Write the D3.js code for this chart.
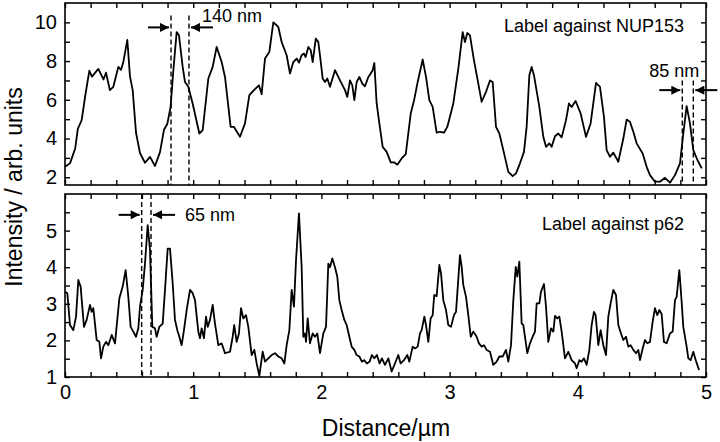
<!DOCTYPE html>
<html>
<head>
<meta charset="utf-8">
<script src="https://cdn.jsdelivr.net/npm/d3@7"></script>
<style>
  body { margin: 0; background: #fff; }
  svg { display: block; font-family: "Liberation Sans", Arial, sans-serif; }
  .tick line { stroke: #000; stroke-width: 1.4; }
  .tick text { fill: #000; font-size: 20px; }
</style>
</head>
<body>
<script>
// line profiles, distance in µm vs intensity (arb. units)
var nup153Dist = [0,0.04,0.08,0.10,0.13,0.16,0.19,0.21,0.26,0.30,0.32,0.35,0.377,0.416,0.437,0.455,0.486,0.507,0.528,0.554,0.585,0.624,0.663,0.702,0.741,0.772,0.798,0.824,0.845,0.871,0.889,0.918,0.936,0.962,0.996,1.048,1.074,1.118,1.152,1.183,1.222,1.248,1.292,1.318,1.365,1.404,1.438,1.474,1.513,1.534,1.56,1.594,1.625,1.651,1.664,1.69,1.729,1.755,1.781,1.807,1.825,1.846,1.864,1.877,1.898,1.917,1.932,1.956,1.976,1.989,2.01,2.028,2.046,2.067,2.106,2.145,2.184,2.202,2.223,2.241,2.257,2.275,2.296,2.319,2.34,2.366,2.385,2.4,2.413,2.431,2.452,2.478,2.509,2.541,2.566,2.592,2.626,2.658,2.697,2.723,2.751,2.79,2.816,2.842,2.868,2.899,2.925,2.956,2.982,3.029,3.068,3.102,3.12,3.138,3.159,3.19,3.224,3.25,3.284,3.315,3.336,3.362,3.388,3.419,3.458,3.492,3.518,3.549,3.58,3.601,3.622,3.64,3.658,3.7,3.731,3.752,3.778,3.796,3.822,3.848,3.874,3.908,3.931,3.952,3.983,4.022,4.064,4.1,4.142,4.173,4.204,4.225,4.251,4.277,4.316,4.355,4.381,4.407,4.433,4.459,4.506,4.537,4.563,4.602,4.641,4.68,4.719,4.758,4.797,4.823,4.849,4.875,4.901,4.933,4.967];
var nup153Val = [2.54,2.73,3.5,4.5,4.95,6.3,7.5,7.2,7.6,7.05,7.4,6.5,6.67,7.7,7.55,7.95,9.1,7.2,6.5,4.3,3.25,2.75,3.05,2.58,3.3,4.45,4.75,5.65,7.5,9.5,9.33,7.7,6.92,6.67,5.8,4.26,4.43,7.1,7.7,8.73,7.95,7.18,4.6,4.6,4.09,4.78,6.24,6.5,6.75,6.29,8.13,8.47,10.0,9.85,9.76,8.98,8.3,7.36,7.95,8.13,7.92,8.3,8.39,8.21,8.73,8.56,7.95,9.16,8.98,8.3,7.1,6.92,7.1,6.67,7.53,7.0,6.5,6.15,7.0,6.75,5.98,6.92,7.18,6.84,6.7,7.18,7.36,7.53,7.9,5.81,4.78,3.57,3.31,2.77,2.77,2.65,2.97,3.2,5.3,5.98,6.92,8.08,7.18,5.98,5.63,4.3,4.35,4.3,4.6,5.81,7.61,9.5,8.98,9.45,9.33,8.04,6.84,5.9,6.41,7.0,6.92,4.6,4.26,3.4,2.28,2.06,2.2,2.72,3.31,4.6,7.27,7.7,7.27,5.63,4.09,3.57,3.75,3.57,4.12,4.26,4.06,4.95,5.81,5.63,5.94,5.3,4.09,4.78,6.87,6.67,5.12,3.4,3.06,3.27,2.8,4.0,4.98,4.86,4.35,3.75,3.23,2.54,2.11,1.77,1.77,1.97,1.72,2.11,2.72,4.26,5.67,4.78,3.4,2.89,2.46];

var p62Dist = [0,0.018,0.039,0.065,0.086,0.104,0.122,0.148,0.169,0.195,0.208,0.221,0.247,0.268,0.281,0.299,0.32,0.338,0.364,0.39,0.424,0.45,0.473,0.494,0.512,0.533,0.554,0.572,0.585,0.606,0.624,0.645,0.663,0.681,0.702,0.715,0.736,0.762,0.78,0.801,0.819,0.84,0.858,0.876,0.892,0.91,0.928,0.949,0.975,0.996,1.014,1.04,1.053,1.066,1.084,1.1,1.113,1.131,1.152,1.17,1.196,1.222,1.248,1.287,1.308,1.32,1.339,1.357,1.373,1.391,1.412,1.43,1.456,1.477,1.495,1.516,1.542,1.56,1.586,1.612,1.638,1.664,1.69,1.711,1.729,1.75,1.768,1.786,1.802,1.825,1.846,1.859,1.872,1.88,1.893,1.911,1.932,1.95,1.968,1.989,2.015,2.036,2.054,2.067,2.085,2.106,2.124,2.14,2.158,2.179,2.197,2.218,2.236,2.257,2.275,2.296,2.316,2.334,2.355,2.376,2.394,2.412,2.433,2.454,2.472,2.496,2.522,2.548,2.574,2.6,2.618,2.644,2.67,2.686,2.712,2.73,2.751,2.769,2.782,2.803,2.816,2.834,2.852,2.868,2.88,2.899,2.92,2.933,2.951,2.972,2.99,3.011,3.034,3.05,3.081,3.094,3.107,3.128,3.146,3.165,3.185,3.211,3.229,3.25,3.268,3.289,3.315,3.341,3.367,3.388,3.414,3.44,3.458,3.479,3.497,3.516,3.528,3.544,3.562,3.575,3.606,3.627,3.648,3.666,3.679,3.7,3.713,3.736,3.752,3.77,3.791,3.809,3.822,3.84,3.856,3.874,3.9,3.926,3.952,3.978,3.991,4.012,4.03,4.048,4.069,4.09,4.108,4.126,4.139,4.16,4.178,4.199,4.22,4.238,4.256,4.277,4.298,4.316,4.337,4.355,4.376,4.394,4.412,4.433,4.454,4.472,4.485,4.506,4.524,4.542,4.563,4.584,4.602,4.62,4.636,4.654,4.672,4.693,4.719,4.74,4.758,4.771,4.792,4.81,4.823,4.849,4.862,4.88,4.901,4.92,4.946];
var p62Val = [3.33,3.29,2.42,2.28,2.65,3.65,3.47,2.37,2.56,2.97,2.78,2.88,2.01,1.96,1.51,1.83,1.96,1.87,2.15,1.92,3.15,3.47,3.92,3.19,2.37,2.24,2.1,2.33,2.92,3.38,4.1,5.15,4.47,2.37,2.33,2.1,2.37,2.46,3.38,4.51,4.51,3.56,2.56,2.28,2.1,1.87,2.28,2.83,3.38,3.29,3.1,2.24,2.06,2.33,2.06,2.65,2.37,2.56,2.97,2.46,1.87,1.92,1.65,1.69,2.1,2.42,1.96,2.19,2.88,2.6,2.69,2.37,1.6,1.74,1.37,1.03,1.69,1.42,1.51,1.6,1.65,1.56,1.51,1.37,1.87,2.28,3.38,2.92,4.19,5.47,4.0,2.1,2.19,1.96,2.6,1.92,2.19,2.1,2.19,1.65,2.19,2.37,4.1,4.0,4.24,4.0,3.74,3.1,2.83,2.56,2.42,2.1,1.83,1.74,1.6,1.56,1.42,1.46,1.37,1.42,1.6,1.51,1.6,1.37,1.51,1.33,1.51,1.15,1.37,1.6,1.37,1.46,1.6,1.42,1.83,1.78,1.83,2.19,2.28,2.65,2.42,1.96,2.6,2.69,3.24,3.21,4.06,3.83,3.1,2.83,2.42,2.37,2.69,2.78,4.33,4.01,3.51,3.19,2.69,2.1,2.24,2.1,1.92,1.83,1.87,1.74,1.69,1.33,1.42,1.56,1.56,1.74,1.42,1.87,3.1,4.01,3.74,4.15,2.46,2.42,1.65,1.92,2.1,2.24,3.01,3.01,3.33,3.54,2.92,1.96,2.33,2.24,2.67,2.6,2.65,2.24,1.51,1.69,1.46,1.37,1.24,1.46,1.42,1.51,1.33,1.74,2.42,2.78,2.69,1.87,2.28,1.87,1.6,2.65,3.01,3.38,3.24,2.42,2.19,2.01,2.1,1.83,1.87,1.74,1.65,1.74,1.46,1.78,2.01,1.92,1.96,2.51,2.88,2.69,2.83,2.72,1.96,1.92,2.19,2.24,3.1,3.19,3.92,3.06,2.37,1.83,1.51,1.46,1.69,1.46,1.19];

var xTicks = d3.range(26).map(function(i) { return +(i * 0.2).toFixed(1); });
var xLabels = [0, 1, 2, 3, 4, 5];
var topYTicks = [2, 3, 4, 5, 6, 7, 8, 9, 10];
var topYLabels = [2, 4, 6, 8, 10];
var botYTicks = [1, 1.5, 2, 2.5, 3, 3.5, 4, 4.5, 5, 5.5];
var botYLabels = [1, 2, 3, 4, 5];

// peak width markers (dashed lines at x1/x2 in µm)
var topMarks = [
  { x1: 0.827, x2: 0.967, label: "140 nm", lineTop: 10.36, arrowY: 9.74, textY: 10.0, textDx: 13, anchor: "start" },
  { x1: 4.815, x2: 4.901, label: "85 nm", lineTop: 7.0, arrowY: 6.5, textY: 7.2, textDx: 6, anchor: "end" }
];
var botMarks = [
  { x1: 0.598, x2: 0.671, label: "65 nm", lineTop: 6, arrowY: 5.43, textY: 5.26, textDx: 34, anchor: "start" }
];

var width = 720, height = 442;
var svg = d3.select("body").append("svg")
    .attr("width", width)
    .attr("height", height);

svg.append("defs").append("marker")
    .attr("id", "arrow")
    .attr("viewBox", "0 0 10 10")
    .attr("refX", 10).attr("refY", 5)
    .attr("markerWidth", 10).attr("markerHeight", 9)
    .attr("markerUnits", "userSpaceOnUse")
    .attr("orient", "auto")
  .append("path")
    .attr("d", "M0,0L10,5L0,10z")
    .attr("fill", "#000");

var x = d3.scaleLinear().domain([0, 5]).range([65, 706]);
var yTop = d3.scaleLinear().domain([1.6, 11]).range([185, 3]);
var yBot = d3.scaleLinear().domain([1, 6]).range([377, 194]);

function noDomain(g) { g.select(".domain").remove(); }

function drawPanel(y, yTicks, yLabels, showX, dist, vals, marks, title, titleY) {
  var g = svg.append("g");
  var y0 = y.range()[0], y1 = y.range()[1];

  g.append("g").attr("transform", "translate(0," + y0 + ")")
    .call(d3.axisBottom(x).tickValues(xTicks).tickSize(-5).tickPadding(8)
      .tickFormat(function(d) { return showX && xLabels.indexOf(d) >= 0 ? d3.format("d")(d) : ""; }))
    .call(noDomain);
  g.append("g").attr("transform", "translate(0," + y1 + ")")
    .call(d3.axisTop(x).tickValues(xTicks).tickSize(-5).tickFormat(""))
    .call(noDomain);
  g.append("g").attr("transform", "translate(" + x.range()[0] + ",0)")
    .call(d3.axisLeft(y).tickValues(yTicks).tickSize(-5).tickPadding(8)
      .tickFormat(function(d) { return yLabels.indexOf(d) >= 0 ? d : ""; }))
    .call(noDomain);
  g.append("g").attr("transform", "translate(" + x.range()[1] + ",0)")
    .call(d3.axisRight(y).tickValues(yTicks).tickSize(-5).tickFormat(""))
    .call(noDomain);

  g.append("rect")
    .attr("x", x.range()[0]).attr("y", y1)
    .attr("width", x.range()[1] - x.range()[0])
    .attr("height", y0 - y1)
    .attr("fill", "none").attr("stroke", "#000").attr("stroke-width", 1.6);

  var line = d3.line()
    .x(function(d) { return x(d[0]); })
    .y(function(d) { return y(d[1]); });

  g.append("path")
    .datum(d3.zip(dist, vals))
    .attr("d", line)
    .attr("fill", "none")
    .attr("stroke", "#000")
    .attr("stroke-width", 1.8)
    .attr("stroke-linejoin", "round");

  marks.forEach(function(m) {
    [m.x1, m.x2].forEach(function(v) {
      g.append("line")
        .attr("x1", x(v)).attr("x2", x(v))
        .attr("y1", y(m.lineTop)).attr("y2", y0)
        .attr("stroke", "#000").attr("stroke-width", 1.4)
        .attr("stroke-dasharray", "5,3");
    });
    var ay = y(m.arrowY);
    g.append("line")
      .attr("x1", x(m.x1) - 23).attr("x2", x(m.x1) - 2)
      .attr("y1", ay).attr("y2", ay)
      .attr("stroke", "#000").attr("stroke-width", 2)
      .attr("marker-end", "url(#arrow)");
    g.append("line")
      .attr("x1", x(m.x2) + 24).attr("x2", x(m.x2) + 2)
      .attr("y1", ay).attr("y2", ay)
      .attr("stroke", "#000").attr("stroke-width", 2)
      .attr("marker-end", "url(#arrow)");
    g.append("text")
      .attr("x", x(m.x2) + m.textDx)
      .attr("y", y(m.textY))
      .attr("text-anchor", m.anchor)
      .attr("font-size", 18)
      .text(m.label);
  });

  g.append("text")
    .attr("x", 684).attr("y", titleY)
    .attr("text-anchor", "end")
    .attr("font-size", 18)
    .text(title);
}

drawPanel(yTop, topYTicks, topYLabels, false, nup153Dist, nup153Val, topMarks, "Label against NUP153", 32);
drawPanel(yBot, botYTicks, botYLabels, true, p62Dist, p62Val, botMarks, "Label against p62", 230);

svg.append("text")
  .attr("transform", "translate(22,187) rotate(-90)")
  .attr("text-anchor", "middle")
  .attr("font-size", 23)
  .text("Intensity / arb. units");

svg.append("text")
  .attr("x", 386).attr("y", 436)
  .attr("text-anchor", "middle")
  .attr("font-size", 23)
  .text("Distance/µm");
</script>
</body>
</html>
